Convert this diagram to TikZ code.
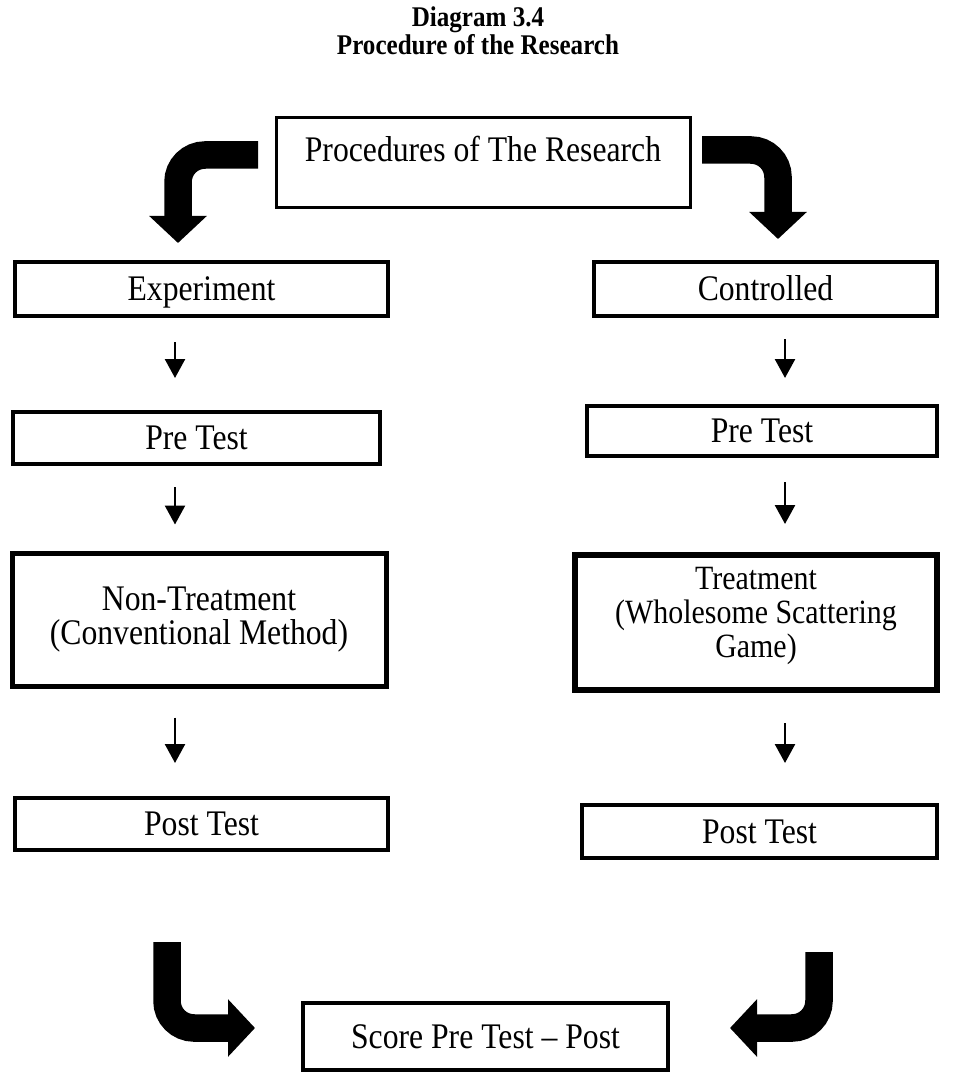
\documentclass[tikz,border=0pt]{standalone}
\usepackage{fontspec}
\setmainfont{Liberation Serif}
\newfontfamily\tallserif[FakeStretch=0.88,Ligatures=TeX]{Liberation Serif}
\usetikzlibrary{arrows.meta}
\tikzset{
  boxnode/.style={draw=black, line width=4pt, rectangle, inner sep=0pt, align=center,
    font=\tallserif\fontsize{36}{40}\selectfont, text height=25.5pt, text depth=2.5pt},
  multibox/.style={draw=black, rectangle, inner sep=0pt, align=center},
  textonly/.style={inner sep=0pt, align=center, font=\tallserif\fontsize{36}{40}\selectfont,
    text height=25.5pt, text depth=2.5pt},
  thinarrow/.style={line width=2.5pt, -{Triangle[width=20pt,length=19pt]}},
  bigarrow/.style={line width=27.5pt, rounded corners=27pt, -{Triangle[width=56pt,length=27pt]}},
  titletext/.style={inner sep=0pt, font=\tallserif\fontsize{28.5}{32}\selectfont\bfseries,
    text height=20pt, text depth=2pt}
}
\begin{document}
\begin{tikzpicture}[x=1pt,y=-1pt]
\useasboundingbox (0,0) rectangle (952,1075);
% title
\node[titletext] (t1) at (478,18) {Diagram 3.4};
\node[titletext] (t2) at (478,46) {Procedure of the Research};
% boxes
\node[boxnode, line width=3pt, minimum width=414pt, minimum height=90pt] (top) at (483,163) {};
\node[textonly] (toptext) at (483,150) {Procedures of The Research};
\node[boxnode, minimum width=373pt, minimum height=54pt] (exp) at (201.5,289) {Experiment};
\node[boxnode, minimum width=343pt, minimum height=54pt] (con) at (765.5,289) {Controlled};
\node[boxnode, minimum width=367pt, minimum height=52pt] (preL) at (196.5,438) {Pre Test};
\node[boxnode, minimum width=350pt, minimum height=50pt] (preR) at (762,431) {Pre Test};
\node[multibox, line width=5pt, minimum width=374pt, minimum height=133pt] (non) at (199,619.5) {};
\node[inner sep=0pt, align=center, font=\tallserif\fontsize{36}{34}\selectfont]
      (nontext) at (199,620) {Non-Treatment\\(Conventional Method)};
\node[multibox, line width=6pt, minimum width=362pt, minimum height=135pt] (trt) at (756,622.5) {};
\node[inner sep=0pt, align=center, font=\tallserif\fontsize{34}{34}\selectfont]
      (trttext) at (756,616) {Treatment\\(Wholesome Scattering\\Game)};
\node[boxnode, minimum width=373pt, minimum height=52pt] (postL) at (201.5,824) {Post Test};
\node[boxnode, minimum width=355pt, minimum height=53pt] (postR) at (759.5,831.5) {Post Test};
\node[boxnode, minimum width=365pt, minimum height=67pt] (score) at (485.5,1036.5) {Score Pre Test \textendash\ Post};
% thin arrows
\draw[thinarrow] ([yshift=-24pt]exp.south -| 175,0) -- ([yshift=32pt]preL.north -| 175,0);
\draw[thinarrow] ([yshift=-21pt]con.south -| 785,0) -- ([yshift=26pt]preR.north -| 785,0);
\draw[thinarrow] ([yshift=-21pt]preL.south -| 175,0) -- ([yshift=26pt]non.north -| 175,0);
\draw[thinarrow] ([yshift=-24pt]preR.south -| 785,0) -- ([yshift=28pt]trt.north -| 785,0);
\draw[thinarrow] ([yshift=-29pt]non.south -| 175,0) -- ([yshift=33pt]postL.north -| 175,0);
\draw[thinarrow] ([yshift=-30pt]trt.south -| 785,0) -- ([yshift=40pt]postR.north -| 785,0);
% big curved arrows
\coordinate (tlS) at (258,155);
\coordinate (tlC) at (178,155);
\coordinate (tlE) at (178,243);
\draw[bigarrow] (tlS) -- (tlC) -- (tlE);
\coordinate (trS) at (702,150);
\coordinate (trC) at (778,150);
\coordinate (trE) at (778,239);
\draw[bigarrow] (trS) -- (trC) -- (trE);
\coordinate (blS) at (167,942);
\coordinate (blC) at (167,1028);
\coordinate (blE) at (255,1028);
\draw[bigarrow] (blS) -- (blC) -- (blE);
\coordinate (brS) at (819,952);
\coordinate (brC) at (819,1028);
\coordinate (brE) at (730,1028);
\draw[bigarrow] (brS) -- (brC) -- (brE);
\end{tikzpicture}
\end{document}
